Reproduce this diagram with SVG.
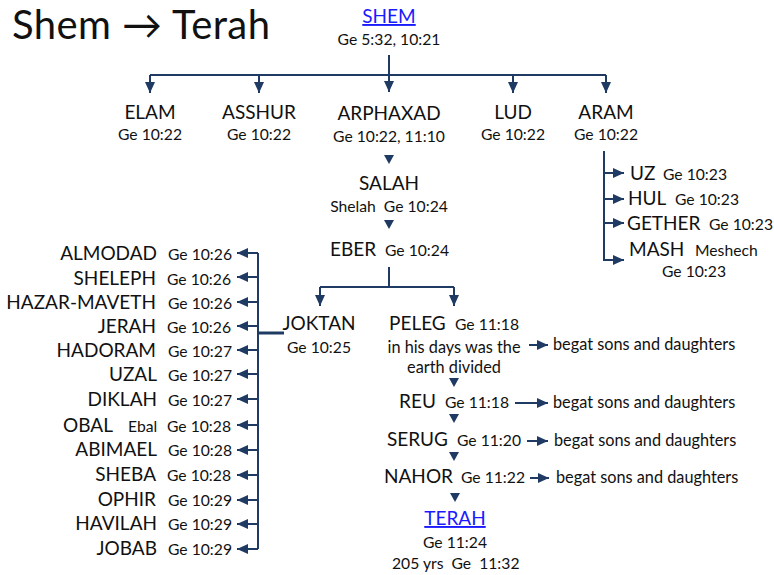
<svg xmlns="http://www.w3.org/2000/svg" width="774" height="575" viewBox="0 0 774 575">
<style>
text{font-family:Lato,"Open Sans","Liberation Sans",sans-serif;fill:#111;white-space:pre}
.title{font-size:40px}
.nm{font-size:19px}
.rf{font-size:15.7px}
.bg{font-size:16.3px}
.lk{font-size:19px;fill:#1a1aff;text-decoration:underline}
.c{text-anchor:middle}
.r{text-anchor:end}
.ln{stroke:#1f3a63;stroke-width:2;fill:none}
.tri{fill:#1f3a63}
</style>
<defs>
<marker id="ah" markerUnits="userSpaceOnUse" markerWidth="11" markerHeight="10" refX="11" refY="5" orient="auto">
<path d="M0,0 L11,5 L0,10 z" fill="#1f3a63"/>
</marker>
</defs>
<text class="title" x="12" y="39" textLength="258" lengthAdjust="spacing">Shem → Terah</text>

<g id="connectors">
<path class="ln" d="M389,55 V92" marker-end="url(#ah)"/>
<path class="ln" d="M150,75 H606"/>
<path class="ln" d="M150,75 V93" marker-end="url(#ah)"/>
<path class="ln" d="M259,75 V93" marker-end="url(#ah)"/>
<path class="ln" d="M513,75 V93" marker-end="url(#ah)"/>
<path class="ln" d="M606,75 V93" marker-end="url(#ah)"/>
<polygon class="tri" points="384,155 394,155 389,164"/>
<polygon class="tri" points="384,220 394,220 389,229"/>
<path class="ln" d="M604,151 V260 H624" marker-end="url(#ah)"/>
<path class="ln" d="M604,173 H624" marker-end="url(#ah)"/>
<path class="ln" d="M604,199 H624" marker-end="url(#ah)"/>
<path class="ln" d="M604,223 H624" marker-end="url(#ah)"/>
<path class="ln" d="M389,267 V287 H320 M389,287 H454"/>
<path class="ln" d="M320,287 V306" marker-end="url(#ah)"/>
<path class="ln" d="M454,287 V306" marker-end="url(#ah)"/>
<path class="ln" d="M258,253 V549"/>
<path d="M258,333 H284" stroke="#1f3a63" stroke-width="3" fill="none"/>
<path class="ln" d="M258,253 H237" marker-end="url(#ah)"/>
<path class="ln" d="M258,277 H237" marker-end="url(#ah)"/>
<path class="ln" d="M258,302 H237" marker-end="url(#ah)"/>
<path class="ln" d="M258,326 H237" marker-end="url(#ah)"/>
<path class="ln" d="M258,350 H237" marker-end="url(#ah)"/>
<path class="ln" d="M258,374 H237" marker-end="url(#ah)"/>
<path class="ln" d="M258,399 H237" marker-end="url(#ah)"/>
<path class="ln" d="M258,425 H237" marker-end="url(#ah)"/>
<path class="ln" d="M258,450 H237" marker-end="url(#ah)"/>
<path class="ln" d="M258,475 H237" marker-end="url(#ah)"/>
<path class="ln" d="M258,500 H237" marker-end="url(#ah)"/>
<path class="ln" d="M258,524 H237" marker-end="url(#ah)"/>
<path class="ln" d="M258,549 H237" marker-end="url(#ah)"/>
<path class="ln" d="M529,345 H548" marker-end="url(#ah)"/>
<path class="ln" d="M515,403 H548" marker-end="url(#ah)"/>
<path class="ln" d="M527,441 H548" marker-end="url(#ah)"/>
<path class="ln" d="M530,478 H549" marker-end="url(#ah)"/>
<polygon class="tri" points="449,378 459,378 454,387"/>
<polygon class="tri" points="449,414 459,414 454,423"/>
<polygon class="tri" points="449,452 459,452 454,461"/>
<polygon class="tri" points="450,493 460,493 455,502"/>
</g>

<g id="shem"><text class="lk c" x="389" y="23">SHEM</text><text class="rf c" x="389" y="45">Ge 5:32, 10:21</text></g>
<g id="elam"><text class="nm c" x="150" y="119">ELAM</text><text class="rf c" x="150" y="140">Ge 10:22</text></g>
<g id="asshur"><text class="nm c" x="259" y="119">ASSHUR</text><text class="rf c" x="259" y="140">Ge 10:22</text></g>
<g id="arphaxad"><text class="nm c" x="389" y="120">ARPHAXAD</text><text class="rf c" x="389" y="142">Ge 10:22, 11:10</text></g>
<g id="lud"><text class="nm c" x="513" y="119">LUD</text><text class="rf c" x="513" y="140">Ge 10:22</text></g>
<g id="aram"><text class="nm c" x="606" y="119">ARAM</text><text class="rf c" x="606" y="140">Ge 10:22</text></g>
<g id="uz"><text class="nm" x="630" y="180">UZ</text><text class="rf" x="663" y="180">Ge 10:23</text></g>
<g id="hul"><text class="nm" x="628" y="205">HUL</text><text class="rf" x="675" y="205">Ge 10:23</text></g>
<g id="gether"><text class="nm" x="627" y="230">GETHER</text><text class="rf" x="709" y="230">Ge 10:23</text></g>
<g id="mash"><text class="nm" x="629" y="256">MASH</text><text class="rf" x="695" y="256">Meshech</text><text class="rf" x="662" y="277">Ge 10:23</text></g>
<g id="salah"><text class="nm c" x="389" y="190">SALAH</text><text class="rf c" x="389" y="212">Shelah  Ge 10:24</text></g>
<g id="eber"><text class="nm" x="330" y="256">EBER</text><text class="rf" x="385" y="256">Ge 10:24</text></g>
<g id="joktan"><text class="nm c" x="319" y="330">JOKTAN</text><text class="rf c" x="319" y="353">Ge 10:25</text></g>
<g id="peleg"><text class="nm" x="389" y="330">PELEG</text><text class="rf" x="455" y="330">Ge 11:18</text><text class="bg c" x="454" y="353">in his days was the</text><text class="bg c" x="454" y="373">earth divided</text></g>
<g id="peleg-sons"><text class="bg" x="553" y="350">begat sons and daughters</text></g>
<g id="reu"><text class="nm" x="399" y="408">REU</text><text class="rf" x="445" y="408">Ge 11:18</text></g>
<g id="reu-sons"><text class="bg" x="553" y="408">begat sons and daughters</text></g>
<g id="serug"><text class="nm" x="387" y="446">SERUG</text><text class="rf" x="457" y="446">Ge 11:20</text></g>
<g id="serug-sons"><text class="bg" x="554" y="446">begat sons and daughters</text></g>
<g id="nahor"><text class="nm" x="384" y="483">NAHOR</text><text class="rf" x="461" y="483">Ge 11:22</text></g>
<g id="nahor-sons"><text class="bg" x="556" y="483">begat sons and daughters</text></g>
<g id="terah"><text class="lk c" x="455" y="525">TERAH</text><text class="rf c" x="455" y="548">Ge 11:24</text><text class="rf" x="392" y="569">205 yrs  Ge  11:32</text></g>

<g id="almodad"><text class="nm r" x="157" y="260">ALMODAD</text><text class="rf" x="168" y="260">Ge 10:26</text></g>
<g id="sheleph"><text class="nm r" x="156" y="285">SHELEPH</text><text class="rf" x="167" y="285">Ge 10:26</text></g>
<g id="hazarmaveth"><text class="nm r" x="156" y="309">HAZAR-MAVETH</text><text class="rf" x="168" y="309">Ge 10:26</text></g>
<g id="jerah"><text class="nm r" x="156" y="333">JERAH</text><text class="rf" x="167" y="333">Ge 10:26</text></g>
<g id="hadoram"><text class="nm r" x="156" y="357">HADORAM</text><text class="rf" x="168" y="357">Ge 10:27</text></g>
<g id="uzal"><text class="nm r" x="157" y="381">UZAL</text><text class="rf" x="168" y="381">Ge 10:27</text></g>
<g id="diklah"><text class="nm r" x="157" y="406">DIKLAH</text><text class="rf" x="168" y="406">Ge 10:27</text></g>
<g id="obal"><text class="nm r" x="113" y="432">OBAL</text><text class="rf" x="128" y="432">Ebal</text><text class="rf" x="167" y="432">Ge 10:28</text></g>
<g id="abimael"><text class="nm r" x="157" y="456">ABIMAEL</text><text class="rf" x="168" y="456">Ge 10:28</text></g>
<g id="sheba"><text class="nm r" x="156" y="481">SHEBA</text><text class="rf" x="167" y="481">Ge 10:28</text></g>
<g id="ophir"><text class="nm r" x="156" y="506">OPHIR</text><text class="rf" x="168" y="506">Ge 10:29</text></g>
<g id="havilah"><text class="nm r" x="157" y="530">HAVILAH</text><text class="rf" x="168" y="530">Ge 10:29</text></g>
<g id="jobab"><text class="nm r" x="157" y="555">JOBAB</text><text class="rf" x="168" y="555">Ge 10:29</text></g>
</svg>
